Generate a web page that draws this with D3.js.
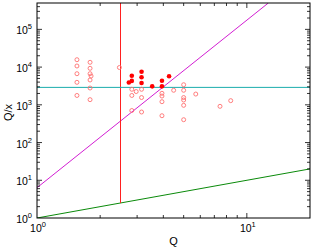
<!DOCTYPE html>
<html>
<head>
<meta charset="utf-8">
<script src="https://cdn.jsdelivr.net/npm/d3@7"></script>
<style>
  body { margin: 0; background: #fff; }
  svg { display: block; }
  text { font-family: "Liberation Sans", Arial, sans-serif; fill: #000; }
</style>
</head>
<body>
<div id="chart"></div>
<script>
// open (pink) points: Q and Q/x
const openQ = [1.55, 1.55, 1.55, 1.55, 1.55,
               1.79, 1.79, 1.79, 1.79, 1.79, 1.79, 1.81,
               2.47, 2.83, 2.97, 2.83, 2.83, 3.15, 3.15, 3.15,
               3.94, 3.94, 3.94, 3.94, 4.48,
               5.0, 5.0, 5.0, 5.0, 5.0, 5.0, 5.71, 7.45, 8.38];
const openY = [15700, 10700, 6680, 3950, 1770,
               13400, 9290, 6680, 4550, 2790, 1370, 5800,
               9750, 2580, 2250, 1770, 707, 2580, 1560, 645,
               2020, 1710, 1210, 514, 2430,
               3410, 2430, 1560, 1340, 970, 403, 1930, 913, 1290];

// filled (red) points
const fillQ = [2.83, 2.83, 2.74, 3.15, 3.15, 3.15, 3.54, 3.94, 3.94, 4.26];
const fillY = [5900, 4300, 3900, 7540, 5360, 3780, 3090, 4360, 3090, 5700];

// reference lines
const qCut = 2.5;          // vertical red line
const yCut = 2900;         // horizontal teal line
const magentaLine = [[1, 6.35], [12.66, 5e5]];
const greenLine = [[1, 1], [20, 20]];

const xDomain = [1, 20];
const yDomain = [1, 5e5];
const xMajor = [1, 10];
const yMajor = [1, 10, 100, 1000, 1e4, 1e5];

const W = 315, H = 248;
const margin = { top: 3, right: 5, bottom: 30, left: 37 };

const svg = d3.select("#chart").append("svg")
    .attr("width", W).attr("height", H);

const x = d3.scaleLog().domain(xDomain).range([margin.left, W - margin.right]);
const y = d3.scaleLog().domain(yDomain).range([H - margin.bottom, margin.top]);

const x0 = x.range()[0], x1 = x.range()[1];
const y0 = y.range()[0], y1 = y.range()[1];

const defs = svg.append("defs");
defs.append("clipPath").attr("id", "clip")
    .append("rect").attr("x", x0).attr("y", y1).attr("width", x1 - x0).attr("height", y0 - y1);

const plot = svg.append("g").attr("clip-path", "url(#clip)");

const line = d3.line().x(d => x(d[0])).y(d => y(d[1]));

// lines
plot.append("path").datum(greenLine).attr("d", line)
    .attr("fill", "none").attr("stroke", "#0a8a0a").attr("stroke-width", 1);
plot.append("path").datum(magentaLine).attr("d", line)
    .attr("fill", "none").attr("stroke", "#d21ed2").attr("stroke-width", 1);
plot.append("path").datum([[qCut, qCut], [qCut, yDomain[1]]]).attr("d", line)
    .attr("fill", "none").attr("stroke", "#ff2020").attr("stroke-width", 1);
plot.append("path").datum([[xDomain[0], yCut], [xDomain[1], yCut]]).attr("d", line)
    .attr("fill", "none").attr("stroke", "#1aacac").attr("stroke-width", 1);

// points
plot.selectAll(".open").data(d3.range(openQ.length)).join("circle")
    .attr("class", "open")
    .attr("cx", i => x(openQ[i])).attr("cy", i => y(openY[i]))
    .attr("r", 2)
    .attr("fill", "none").attr("stroke", "#ff7070").attr("stroke-width", 0.9);

plot.selectAll(".fill").data(d3.range(fillQ.length)).join("circle")
    .attr("class", "fill")
    .attr("cx", i => x(fillQ[i])).attr("cy", i => y(fillY[i]))
    .attr("r", 2.3)
    .attr("fill", "#ff0000");

// ticks (inward on all four sides)
const axes = svg.append("g").attr("stroke", "#000").attr("stroke-width", 0.8);
const xTicks = x.ticks().filter(v => v > xDomain[0] && v < xDomain[1]);
const yTicks = y.ticks().filter(v => v > yDomain[0] && v < yDomain[1]);
const isMajor = v => Math.abs(Math.log10(v) - Math.round(Math.log10(v))) < 1e-9;

xTicks.forEach(v => {
  const L = isMajor(v) ? 5 : 3;
  axes.append("line").attr("x1", x(v)).attr("x2", x(v)).attr("y1", y0).attr("y2", y0 - L);
  axes.append("line").attr("x1", x(v)).attr("x2", x(v)).attr("y1", y1).attr("y2", y1 + L);
});
yTicks.forEach(v => {
  const L = isMajor(v) ? 5 : 3;
  axes.append("line").attr("y1", y(v)).attr("y2", y(v)).attr("x1", x0).attr("x2", x0 + L);
  axes.append("line").attr("y1", y(v)).attr("y2", y(v)).attr("x1", x1).attr("x2", x1 - L);
});

// box
svg.append("rect")
    .attr("x", x0).attr("y", y1).attr("width", x1 - x0).attr("height", y0 - y1)
    .attr("fill", "none").attr("stroke", "#000").attr("stroke-width", 1);

// tick labels
yMajor.forEach(v => {
  const t = svg.append("text")
      .attr("x", x0 - 5).attr("y", y(v) + 5)
      .attr("text-anchor", "end").style("font-size", "10.5px");
  t.append("tspan").text("10");
  t.append("tspan").attr("dy", -5).style("font-size", "7.5px").text(Math.round(Math.log10(v)));
});
xMajor.forEach(v => {
  const t = svg.append("text")
      .attr("x", x(v) + 1).attr("y", y0 + 14)
      .attr("text-anchor", "middle").style("font-size", "10.5px");
  t.append("tspan").text("10");
  t.append("tspan").attr("dy", -5).style("font-size", "7.5px").text(Math.round(Math.log10(v)));
});

// axis titles
svg.append("text")
    .attr("x", (x0 + x1) / 2).attr("y", 245)
    .attr("text-anchor", "middle").style("font-size", "11px").text("Q");
svg.append("text")
    .attr("transform", `translate(12, ${(y0 + y1) / 2 + 2}) rotate(-90)`)
    .attr("text-anchor", "middle").style("font-size", "11px").text("Q/x");
</script>
</body>
</html>
